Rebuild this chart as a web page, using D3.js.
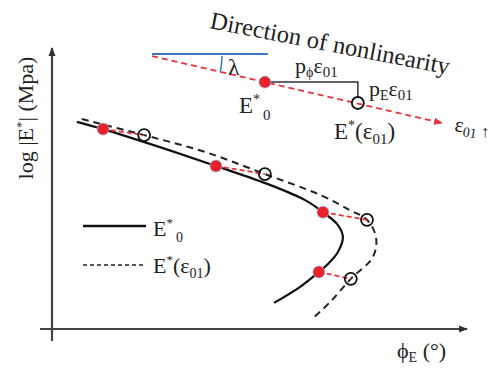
<!DOCTYPE html>
<html>
<head>
<meta charset="utf-8">
<script src="https://cdn.jsdelivr.net/npm/d3@7"></script>
<style>
  body { margin: 0; background: #fff; }
  text { font-family: "Liberation Serif", "DejaVu Serif", serif; fill: #222; }
</style>
</head>
<body>
<div id="chart"></div>
<script>
// values (arbitrary units, no ticks in the original)
var e0Curve = [[0.60,5.16],[1.23,4.98],[2.60,4.53],[3.95,4.06],[5.25,3.59],[6.10,3.21],[6.53,2.91],
  [6.89,2.59],[7.01,2.29],[6.89,1.92],[6.65,1.62],[6.43,1.42],[5.98,1.05],[5.35,0.65]];
var eEpsCurve = [[0.72,5.23],[2.22,4.83],[3.69,4.41],[5.13,3.86],[6.46,3.34],[7.18,2.96],[7.59,2.72],
  [7.81,2.27],[7.73,1.79],[7.20,1.25],[6.70,0.67],[6.29,0.27]];
var e0Points = [[1.23,4.98],[3.95,4.06],[6.53,2.91],[6.43,1.42]];
var eEpsPoints = [[2.22,4.83],[5.13,3.86],[7.59,2.72],[7.20,1.25]];
// schematic at the top
var dirLine = [[2.41,6.80],[9.40,5.13]];
var refLine = [[2.41,6.85],[5.20,6.85]];
var schemE0 = [5.13,6.15];
var schemEps = [7.37,5.63];

var W = 490, H = 368;
var svg = d3.select("#chart").append("svg")
  .attr("width", W).attr("height", H);

var x = d3.scaleLinear().domain([0, 10]).range([52, 467]);
var y = d3.scaleLinear().domain([0, 7]).range([329, 48]);

var defs = svg.append("defs");
defs.append("marker").attr("id", "ax")
  .attr("viewBox", "0 0 10 10").attr("refX", 9).attr("refY", 5)
  .attr("markerWidth", 4).attr("markerHeight", 4).attr("orient", "auto")
  .append("path").attr("d", "M0,1L10,5L0,9Z").attr("fill", "#333");
defs.append("marker").attr("id", "rd")
  .attr("viewBox", "0 0 10 10").attr("refX", 9).attr("refY", 5)
  .attr("markerWidth", 5).attr("markerHeight", 5).attr("orient", "auto")
  .append("path").attr("d", "M0,1L10,5L0,9Z").attr("fill", "#e8333a");

// axes
svg.append("line").attr("x1", 40).attr("y1", y(0)).attr("x2", x(10)).attr("y2", y(0))
  .attr("stroke", "#444").attr("stroke-width", 2.2).attr("marker-end", "url(#ax)");
svg.append("line").attr("x1", x(0)).attr("y1", 341).attr("x2", x(0)).attr("y2", y(7))
  .attr("stroke", "#444").attr("stroke-width", 2.2).attr("marker-end", "url(#ax)");

var line = d3.line().x(function(d){ return x(d[0]); }).y(function(d){ return y(d[1]); })
  .curve(d3.curveCatmullRom);

svg.append("path").attr("d", line(e0Curve))
  .attr("fill", "none").attr("stroke", "#111").attr("stroke-width", 2.2);
svg.append("path").attr("d", line(eEpsCurve))
  .attr("fill", "none").attr("stroke", "#222").attr("stroke-width", 2)
  .attr("stroke-dasharray", "7,5");

// red dashed links between pairs
e0Points.forEach(function(p, i) {
  svg.append("line")
    .attr("x1", x(p[0])).attr("y1", y(p[1]))
    .attr("x2", x(eEpsPoints[i][0])).attr("y2", y(eEpsPoints[i][1]))
    .attr("stroke", "#e8333a").attr("stroke-width", 1.8).attr("stroke-dasharray", "5,3");
});

svg.selectAll(".open").data(eEpsPoints).enter().append("circle")
  .attr("cx", function(d){ return x(d[0]); }).attr("cy", function(d){ return y(d[1]); })
  .attr("r", 6).attr("fill", "none").attr("stroke", "#111").attr("stroke-width", 1.8);
svg.selectAll(".red").data(e0Points).enter().append("circle")
  .attr("cx", function(d){ return x(d[0]); }).attr("cy", function(d){ return y(d[1]); })
  .attr("r", 6).attr("fill", "#e8212b").attr("stroke", "#9bb6d8").attr("stroke-width", 0.8);

// schematic
svg.append("line")
  .attr("x1", x(refLine[0][0])).attr("y1", y(refLine[0][1]))
  .attr("x2", x(refLine[1][0])).attr("y2", y(refLine[1][1]))
  .attr("stroke", "#3a78c2").attr("stroke-width", 2);
svg.append("line")
  .attr("x1", x(dirLine[0][0])).attr("y1", y(dirLine[0][1]))
  .attr("x2", x(dirLine[1][0])).attr("y2", y(dirLine[1][1]))
  .attr("stroke", "#e8333a").attr("stroke-width", 1.8).attr("stroke-dasharray", "6,4")
  .attr("marker-end", "url(#rd)");

var ox = x(dirLine[0][0]), oy = y(dirLine[0][1]);
var ang = Math.atan2(y(dirLine[1][1]) - oy, x(dirLine[1][0]) - ox);
var arc = d3.arc().innerRadius(70).outerRadius(70).startAngle(Math.PI / 2).endAngle(Math.PI / 2 + ang);
svg.append("path").attr("d", arc()).attr("transform", "translate(" + ox + "," + oy + ")")
  .attr("fill", "none").attr("stroke", "#3a78c2").attr("stroke-width", 1.5);
svg.append("text").attr("x", 228).attr("y", 75).attr("font-size", 24).text("λ");

svg.append("path")
  .attr("d", "M" + x(schemE0[0]) + "," + y(schemE0[1]) + "H" + x(schemEps[0]) + "V" + (y(schemEps[1]) - 6))
  .attr("fill", "none").attr("stroke", "#333").attr("stroke-width", 1.5);
svg.append("circle").attr("cx", x(schemEps[0])).attr("cy", y(schemEps[1])).attr("r", 6)
  .attr("fill", "none").attr("stroke", "#111").attr("stroke-width", 1.8);
svg.append("circle").attr("cx", x(schemE0[0])).attr("cy", y(schemE0[1])).attr("r", 6)
  .attr("fill", "#e8212b").attr("stroke", "#9bb6d8").attr("stroke-width", 0.8);

function label(px, py, size, parts) {
  var t = svg.append("text").attr("x", px).attr("y", py).attr("font-size", size);
  parts.forEach(function(p) {
    var s = t.append("tspan").text(p[0]);
    if (p[1]) s.attr("dy", p[1]);
    if (p[2]) s.attr("font-size", p[2]);
    if (p[3]) s.attr("dx", p[3]);
  });
  return t;
}

label(239, 113, 23, [["E"], ["*", -9, 14], ["0", 16, 15, 3]]);
label(334, 139, 23, [["E"], ["*", -9, 14], ["(ε", 9], ["01", 5, 15], [")", -5]]);
label(295, 73, 22, [["p"], ["ϕ", 4, 14], ["ε", -4], ["01", 4, 15]]);
label(369, 96, 22, [["p"], ["E", 4, 14], ["ε", -4], ["01", 4, 15]]);
label(454, 131, 21, [["ε"], ["01", 4, 14]]).attr("transform", "rotate(8,454,131)");
svg.append("text").attr("x", 481).attr("y", 137).attr("font-size", 16).attr("font-family", "DejaVu Sans").text("↑");

svg.append("text").attr("x", 209).attr("y", 28).attr("font-size", 24.5)
  .attr("transform", "rotate(11,209,28)").text("Direction of nonlinearity");

// legend
svg.append("line").attr("x1", 83).attr("y1", 226).attr("x2", 146).attr("y2", 226)
  .attr("stroke", "#111").attr("stroke-width", 2.4);
svg.append("line").attr("x1", 83).attr("y1", 265).attr("x2", 146).attr("y2", 265)
  .attr("stroke", "#222").attr("stroke-width", 1.4).attr("stroke-dasharray", "4,3");
label(153, 236, 22, [["E"], ["*", -9, 13], ["0", 15, 14, 3]]);
label(153, 273, 22, [["E"], ["*", -9, 13], ["(ε", 9], ["01", 5, 14], [")", -5]]);

// axis titles
label(0, 0, 22, [["log |E"], ["*", -8, 13], ["| (Mpa)", 8]])
  .attr("text-anchor", "middle").attr("transform", "translate(33,118) rotate(-90)");
label(397, 358, 22, [["ϕ"], ["E", 4, 14], [" (°)", -4]]);
</script>
</body>
</html>
